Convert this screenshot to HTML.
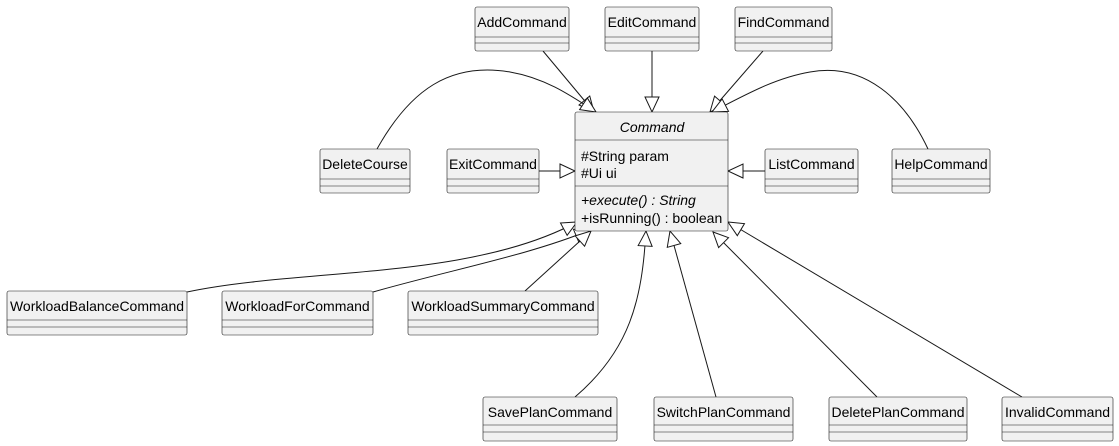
<!DOCTYPE html>
<html><head><meta charset="utf-8"><style>
html,body{margin:0;padding:0;background:#fff;}
svg{display:block;font-family:"Liberation Sans",sans-serif;}
</style></head><body>
<svg width="1119" height="446" viewBox="0 0 1119 446" xmlns="http://www.w3.org/2000/svg">
<defs>
<marker id="t" markerUnits="userSpaceOnUse" markerWidth="20" markerHeight="20" refX="16" refY="8" orient="auto">
<path d="M1,1 L16,8 L1,15 Z" fill="#fff" stroke="#181818" stroke-width="1"/>
</marker>
</defs>
<g fill="none" stroke="#181818" stroke-width="1" marker-end="url(#t)">
<path d="M543,51 L594,112"/>
<path d="M652,51 L652,112"/>
<path d="M763,51 L710,112"/>
<path d="M377,149 C410,90 450,62 510,72 C545,78 570,95 596,112"/>
<path d="M928,149 C905,100 865,62 810,72 C775,78 745,95 712,112"/>
<path d="M539,171 L575,171"/>
<path d="M765,171 L728,171"/>
<path d="M187,292 C300,268 470,280 577,222"/>
<path d="M373,292 C450,270 530,255 590,230"/>
<path d="M525,291 L591,231"/>
<path d="M575,397 C630,350 642,300 646,231"/>
<path d="M716,397 L670,231"/>
<path d="M877,397 L713,232"/>
<path d="M1022,397 L728,222"/>
</g>
<g fill="#f1f1f1" stroke="#181818" stroke-width="0.6">
<rect x="575" y="112" width="153" height="119" rx="2"/>
<line x1="575" y1="140" x2="728" y2="140"/>
<line x1="575" y1="186" x2="728" y2="186"/>
</g>
<g fill="#000" font-size="14">
<text x="652" y="132" text-anchor="middle" font-style="italic">Command</text>
<text x="581" y="161">#String param</text>
<text x="581" y="178">#Ui ui</text>
<text x="581" y="205" font-style="italic">+execute() : String</text>
<text x="581" y="223">+isRunning() : boolean</text>
</g>
<g fill="#f1f1f1" stroke="#181818" stroke-width="0.6">
<rect x="475" y="7" width="94" height="44" rx="2"/><line x1="475" y1="37" x2="569" y2="37"/><line x1="475" y1="43" x2="569" y2="43"/>
<rect x="605" y="7" width="94" height="44" rx="2"/><line x1="605" y1="37" x2="699" y2="37"/><line x1="605" y1="43" x2="699" y2="43"/>
<rect x="735" y="7" width="97" height="44" rx="2"/><line x1="735" y1="37" x2="832" y2="37"/><line x1="735" y1="43" x2="832" y2="43"/>
<rect x="320" y="149" width="90" height="44" rx="2"/><line x1="320" y1="179" x2="410" y2="179"/><line x1="320" y1="186" x2="410" y2="186"/>
<rect x="447" y="149" width="92" height="44" rx="2"/><line x1="447" y1="179" x2="539" y2="179"/><line x1="447" y1="186" x2="539" y2="186"/>
<rect x="765" y="149" width="93" height="44" rx="2"/><line x1="765" y1="179" x2="858" y2="179"/><line x1="765" y1="186" x2="858" y2="186"/>
<rect x="892" y="149" width="98" height="44" rx="2"/><line x1="892" y1="179" x2="990" y2="179"/><line x1="892" y1="186" x2="990" y2="186"/>
<rect x="7" y="291" width="180" height="44" rx="2"/><line x1="7" y1="320" x2="187" y2="320"/><line x1="7" y1="327" x2="187" y2="327"/>
<rect x="222" y="291" width="151" height="44" rx="2"/><line x1="222" y1="320" x2="373" y2="320"/><line x1="222" y1="327" x2="373" y2="327"/>
<rect x="408" y="291" width="190" height="44" rx="2"/><line x1="408" y1="320" x2="598" y2="320"/><line x1="408" y1="327" x2="598" y2="327"/>
<rect x="483" y="397" width="134" height="44" rx="2"/><line x1="483" y1="425" x2="617" y2="425"/><line x1="483" y1="432" x2="617" y2="432"/>
<rect x="654" y="397" width="139" height="44" rx="2"/><line x1="654" y1="425" x2="793" y2="425"/><line x1="654" y1="432" x2="793" y2="432"/>
<rect x="829" y="397" width="138" height="44" rx="2"/><line x1="829" y1="425" x2="967" y2="425"/><line x1="829" y1="432" x2="967" y2="432"/>
<rect x="1002" y="397" width="111" height="44" rx="2"/><line x1="1002" y1="425" x2="1113" y2="425"/><line x1="1002" y1="432" x2="1113" y2="432"/>
</g>
<g fill="#000" font-size="14" text-anchor="middle">
<text x="522" y="27">AddCommand</text>
<text x="652" y="27">EditCommand</text>
<text x="783.5" y="27">FindCommand</text>
<text x="365" y="169">DeleteCourse</text>
<text x="493" y="169">ExitCommand</text>
<text x="811.5" y="169">ListCommand</text>
<text x="941" y="169">HelpCommand</text>
<text x="97" y="311">WorkloadBalanceCommand</text>
<text x="297.5" y="311">WorkloadForCommand</text>
<text x="503" y="311">WorkloadSummaryCommand</text>
<text x="550" y="417">SavePlanCommand</text>
<text x="723.5" y="417">SwitchPlanCommand</text>
<text x="898" y="417">DeletePlanCommand</text>
<text x="1057.5" y="417">InvalidCommand</text>
</g>
</svg>
</body></html>
